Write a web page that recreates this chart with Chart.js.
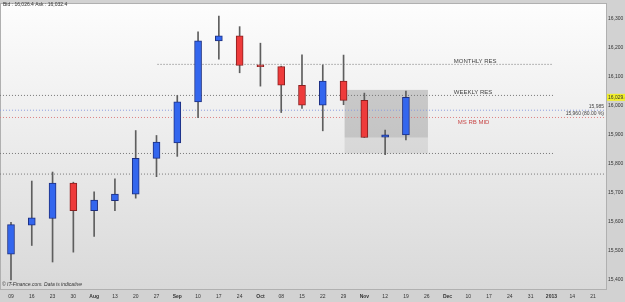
<!DOCTYPE html>
<html lang="en">
<head>
    <meta charset="UTF-8">
    <title>Weekly candles</title>
    <script src="https://cdn.jsdelivr.net/npm/chart.js"></script>
    <style>
        body { margin: 0; background: #d3d3d3; }
        #wrap { width: 625px; height: 302px; }
    </style>
</head>
<body>
    <div id="wrap"><canvas id="chart" width="625" height="302"></canvas></div>

    <script>
        // week labels along the bottom
        const xLabels = ['09', '16', '23', '30', 'Aug', '13', '20', '27', 'Sep', '10', '17', '24', 'Oct', '08', '15',
            '22', '29', 'Nov', '12', '19', '26', 'Dec', '10', '17', '24', '31', '2013', '14', '21'];
        const monthLabels = ['Aug', 'Sep', 'Oct', 'Nov', 'Dec', '2013'];

        // weekly OHLC
        const opens = [15489, 15589, 15612, 15734, 15639, 15673, 15696, 15819, 15872, 16014, 16224, 16241, 16141, 16135, 16071, 16002, 16085, 16019, 15892, 15900];
        const highs = [15599, 15741, 15772, 15737, 15704, 15749, 15915, 15898, 16036, 16255, 16309, 16273, 16216, 16137, 16176, 16141, 16175, 16044, 15917, 16051];
        const lows = [15400, 15519, 15462, 15496, 15550, 15639, 15682, 15756, 15826, 15959, 16161, 16114, 16068, 15977, 15991, 15914, 16004, 15891, 15832, 15883];
        const closes = [15591, 15614, 15734, 15639, 15675, 15696, 15819, 15875, 16014, 16224, 16241, 16139, 16135, 16071, 16002, 16085, 16019, 15891, 15900, 16029];

        const yTicks = [15400, 15500, 15600, 15700, 15800, 15900, 16000, 16100, 16200, 16300];

        // dotted levels: value, from week, to week
        const levelValues = [16143, 16036, 15985, 15960, 15836, 15765];
        const levelFrom = [7.05, -0.53, -0.53, -0.53, -0.53, -0.53];
        const levelTo = [26.08, 26.08, 28.6, 28.6, 26.08, 28.6];
        const levelColors = ['#777', '#777', '#8a9ce0', '#dc8080', '#777', '#777'];

        // level captions
        const captionTexts = ['MONTHLY RES', 'WEEKLY RES', 'MS RB MID'];
        const captionLevels = [16143, 16036, 15960];
        const captionColors = ['#444', '#444', '#c84848'];
        const sideTexts = ['15,985', '15,960 (80.00 %)'];
        const sideLevels = [15985, 15960];

        // shaded range box (weeks 16..20)
        const boxWeeks = [16.05, 20.06];
        const boxTop = 16055, boxMid = 15891, boxBottom = 15836;

        const lastPrice = 16029.4;
        const headerText = 'Bid : 16,026.4 Ask : 16,032.4';
        const footerText = '\u00A9 IT-Finance.com. Data is indicative';

        const FONT = 'Arial, "Liberation Sans", sans-serif';

        const bodies = opens.map((o, i) => ({ x: i, y: [o, closes[i]] }));
        const wicks = lows.map((l, i) => ({ x: i, y: [l, highs[i]] }));
        const up = (i) => closes[i] >= opens[i];

        const levelSets = levelValues.map((v, i) => ({
            type: 'line',
            data: [{ x: levelFrom[i], y: v }, { x: levelTo[i], y: v }],
            borderColor: levelColors[i],
            borderWidth: 1,
            borderDash: [1, 2],
            pointRadius: 0,
            order: 5
        }));

        const extras = {
            id: 'extras',
            beforeDraw(chart) {
                const { ctx, chartArea: a, width, height } = chart;
                ctx.save();
                ctx.fillStyle = '#d2d2d2';
                ctx.fillRect(0, 0, width, height);
                const g = ctx.createLinearGradient(0, a.top, 0, a.bottom);
                g.addColorStop(0, '#fdfdfd');
                g.addColorStop(1, '#d9d9d9');
                ctx.fillStyle = g;
                ctx.fillRect(a.left, a.top, a.right - a.left, a.bottom - a.top);
                ctx.strokeStyle = '#b0b0b0';
                ctx.lineWidth = 1;
                ctx.strokeRect(a.left + 0.5, a.top - 0.5, a.right - a.left - 1, a.bottom - a.top + 1);
                ctx.restore();
            },
            beforeDatasetsDraw(chart) {
                const { ctx, scales: { x, y } } = chart;
                const x0 = x.getPixelForValue(boxWeeks[0]);
                const x1 = x.getPixelForValue(boxWeeks[1]);
                ctx.save();
                ctx.fillStyle = 'rgba(0,0,0,0.17)';
                ctx.fillRect(x0, y.getPixelForValue(boxTop), x1 - x0, y.getPixelForValue(boxMid) - y.getPixelForValue(boxTop));
                ctx.fillStyle = 'rgba(0,0,0,0.08)';
                ctx.fillRect(x0, y.getPixelForValue(boxMid), x1 - x0, y.getPixelForValue(boxBottom) - y.getPixelForValue(boxMid));
                ctx.restore();
            },
            afterDraw(chart) {
                const { ctx, chartArea: a, scales: { x, y }, width } = chart;
                ctx.save();
                ctx.textBaseline = 'middle';
                ctx.font = '5px ' + FONT;
                ctx.fillStyle = '#333';
                ctx.fillText(headerText, 3, 5);
                ctx.font = 'italic 5px ' + FONT;
                ctx.fillText(footerText, 2, a.bottom - 4);

                ctx.font = '6px ' + FONT;
                const cx = x.getPixelForValue(21.3);
                captionTexts.forEach((t, i) => {
                    ctx.fillStyle = captionColors[i];
                    const off = i === 2 ? 5 : -3;
                    ctx.fillText(t, cx + (i === 2 ? 4 : 0), y.getPixelForValue(captionLevels[i]) + off);
                });

                ctx.font = '5px ' + FONT;
                ctx.fillStyle = '#444';
                ctx.textAlign = 'right';
                sideTexts.forEach((t, i) => {
                    ctx.fillText(t, a.right - 3, y.getPixelForValue(sideLevels[i]) - 4);
                });

                // last price tag on the axis
                const py = y.getPixelForValue(lastPrice);
                ctx.fillStyle = '#f0ee2a';
                ctx.fillRect(a.right, py - 3.5, width - a.right, 7);
                ctx.fillStyle = '#333';
                ctx.textAlign = 'left';
                ctx.fillText(lastPrice.toLocaleString('en-US', { minimumFractionDigits: 1 }), a.right + 1, py);
                ctx.restore();
            }
        };

        new Chart(document.getElementById('chart'), {
            type: 'bar',
            data: {
                datasets: [
                    {
                        data: bodies,
                        grouped: false,
                        barThickness: 7,
                        backgroundColor: (c) => up(c.dataIndex) ? '#3366ee' : '#ee3b3b',
                        borderColor: (c) => up(c.dataIndex) ? '#1d2f80' : '#8a2020',
                        borderWidth: 1,
                        borderSkipped: false,
                        order: 1
                    },
                    {
                        data: wicks,
                        grouped: false,
                        barThickness: 1,
                        backgroundColor: '#5e5e5e',
                        borderWidth: 0,
                        order: 2
                    },
                    ...levelSets
                ]
            },
            options: {
                responsive: false,
                animation: false,
                events: [],
                layout: { padding: { top: 1, left: 0, right: 0, bottom: 0 } },
                plugins: {
                    legend: { display: false },
                    tooltip: { enabled: false }
                },
                scales: {
                    x: {
                        type: 'linear',
                        min: -0.529,
                        max: 28.674,
                        offset: false,
                        grid: { display: false, drawTicks: false, tickLength: 0 },
                        border: { display: false },
                        afterBuildTicks: (s) => { s.ticks = xLabels.map((_, i) => ({ value: i })); },
                        afterFit: (s) => { s.height = 13; },
                        ticks: {
                            autoSkip: false,
                            maxRotation: 0,
                            padding: 5,
                            color: '#333',
                            callback: (v) => xLabels[v],
                            font: (c) => ({
                                family: FONT,
                                size: 5,
                                weight: c.tick && monthLabels.includes(xLabels[c.tick.value]) ? 'bold' : 'normal'
                            })
                        }
                    },
                    y: {
                        position: 'right',
                        min: 15369,
                        max: 16351,
                        grid: { display: false, drawTicks: false, tickLength: 0 },
                        border: { display: false },
                        afterBuildTicks: (s) => { s.ticks = yTicks.map((v) => ({ value: v })); },
                        afterFit: (s) => { s.width = 18; },
                        ticks: {
                            padding: 1,
                            color: '#333',
                            font: { family: FONT, size: 5 },
                            callback: (v) => v.toLocaleString('en-US')
                        }
                    }
                }
            },
            plugins: [extras]
        });
    </script>
</body>
</html>
